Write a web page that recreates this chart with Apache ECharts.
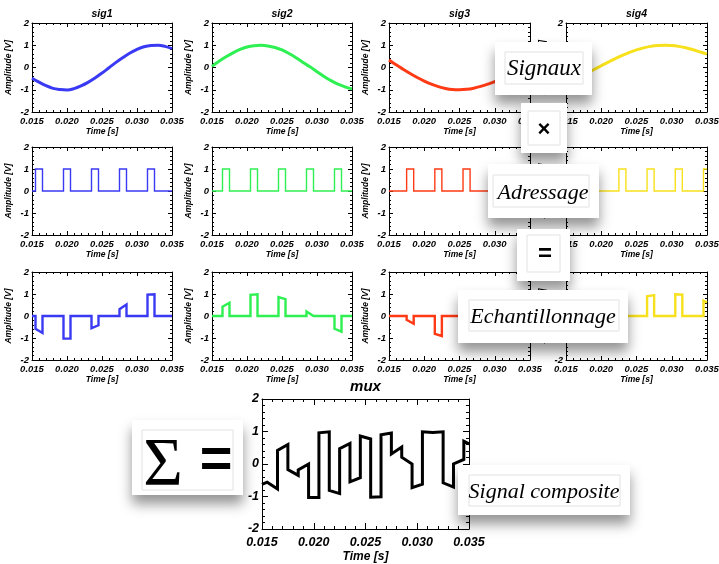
<!DOCTYPE html>
<html><head><meta charset="utf-8">
<script src="https://cdn.jsdelivr.net/npm/echarts@6.0.0/dist/echarts.min.js"></script>
<style>html,body{margin:0;padding:0;background:#fff}#c{width:719px;height:564px}</style>
</head><body><div id="c"></div>
<script>
// ---------------- data ----------------
const signalNames = ['sig1', 'sig2', 'sig3', 'sig4'];
const muxName = 'mux';
const xTickLabels = ['0.015', '0.020', '0.025', '0.030', '0.035'];
const yTickLabels = ['-2', '-1', '0', '1', '2'];
const times = [0.015,0.016,0.017,0.018,0.019,0.020,0.021,0.022,0.023,0.024,0.025,
               0.026,0.027,0.028,0.029,0.030,0.031,0.032,0.033,0.034,0.035];
const sig1 = [-0.48,-0.66,-0.82,-0.94,-0.99,-1.01,-0.95,-0.83,-0.67,-0.47,-0.25,-0.01,0.23,0.45,0.65,0.81,0.93,0.99,1.0,0.95,0.85];
const sig2 = [0.05,0.28,0.48,0.66,0.81,0.92,0.98,1.0,0.97,0.9,0.79,0.63,0.44,0.23,0.03,-0.19,-0.4,-0.59,-0.75,-0.87,-0.96];
const sig3 = [0.34,0.12,-0.08,-0.27,-0.45,-0.61,-0.75,-0.86,-0.94,-0.99,-1.0,-0.98,-0.93,-0.85,-0.75,-0.63,-0.46,-0.28,-0.09,0.09,0.27];
const sig4 = [-0.64,-0.54,-0.41,-0.25,-0.09,0.08,0.24,0.4,0.55,0.68,0.79,0.88,0.95,0.99,1.0,0.99,0.95,0.89,0.8,0.7,0.6];
const pulseWidth = 0.001;
const addressLevel = 1;
const pulseStarts1 = [0.0155,0.0195,0.0235,0.0275,0.0315];
const pulseStarts2 = [0.0165,0.0205,0.0245,0.0285,0.0325];
const pulseStarts3 = [0.0175,0.0215,0.0255,0.0295,0.0335];
const pulseStarts4 = [0.0145,0.0185,0.0225,0.0265,0.0305,0.0345];
// sampled values [start, end] of each visible pulse
const samples1 = [[-0.58,-0.77],[-1.03,-1.03],[-0.55,-0.42],[0.31,0.52],[0.97,0.99]];
const samples2 = [[0.42,0.6],[0.96,0.99],[0.86,0.77],[0.21,0.0],[-0.58,-0.71]];
const samples3 = [[-0.17,-0.35],[-0.81,-0.91],[-1.02,-1.01],[-0.73,-0.62],[0.0,0.14]];
const samples4 = [[-0.63,-0.56],[-0.18,0.0],[0.47,0.63],[0.9,0.95],[0.99,0.97],[0.7,0.62]];
const overlayTexts = ['Signaux', '\u00d7', 'Adressage', '=', 'Echantillonnage', '\u03a3', '=', 'Signal composite'];

// ---------------- styling / layout ----------------
const colors = ['#3a3af4', '#2ef052', '#ff3a14', '#f7e01c'];
const X_MIN = 0.015, X_MAX = 0.035;
const colLeft = [32, 212, 389, 566];
const rowTop = [23, 147, 272];
const rowH = [89, 88, 88];
const panelW = 141;
const FONT = 'Liberation Sans';
const SERIF = 'Liberation Serif';

const sigs = [sig1, sig2, sig3, sig4];
const starts = [pulseStarts1, pulseStarts2, pulseStarts3, pulseStarts4];
const samples = [samples1, samples2, samples3, samples4];

function stepData(st, vals) {
  const pts = [];
  let lastT1 = X_MIN;
  st.forEach((s, i) => {
    const t0 = Math.max(s, X_MIN), t1 = Math.min(s + pulseWidth, X_MAX);
    if (i === 0 && t0 > X_MIN) pts.push([X_MIN, 0]);
    if (t0 > X_MIN) pts.push([t0, 0]);
    pts.push([t0, vals[i][0]], [t1, vals[i][1]]);
    if (t1 < X_MAX) pts.push([t1, 0]);
    lastT1 = t1;
  });
  if (lastT1 < X_MAX) pts.push([X_MAX, 0]);
  return pts;
}
function muxData() {
  const all = [];
  starts.forEach((st, k) => st.forEach((s, i) => {
    all.push({t0: Math.max(s, X_MIN), t1: Math.min(s + pulseWidth, X_MAX), v: samples[k][i]});
  }));
  all.sort((a, b) => a.t0 - b.t0);
  const pts = [];
  all.forEach(p => { pts.push([p.t0, p.v[0]], [p.t1, p.v[1]]); });
  return pts;
}

const grids = [], xAxes = [], yAxes = [], series = [], graphics = [];

function addPanel(left, top, w, h, big, title) {
  const g = grids.length;
  grids.push({left: left, top: top, width: w, height: h, containLabel: false, outerBoundsMode: 'none'});
  const fs = big ? 12.5 : 9.5;
  const nameFs = big ? 12 : 8.5;
  const tickLen = big ? 6 : 4;
  const minorLen = big ? 3 : 2;
  const lbl = {show: true, fontFamily: FONT, fontStyle: 'italic', fontWeight: 'bold', fontSize: fs, color: '#000'};
  const common = {
    axisLine: {show: true, onZero: false, lineStyle: {color: '#000', width: 1}},
    axisTick: {show: true, inside: true, length: tickLen, lineStyle: {color: '#000', width: 1}},
    minorTick: {show: true, splitNumber: 5, length: minorLen, lineStyle: {color: '#000', width: 1}},
    splitLine: {show: false}, minorSplitLine: {show: false}
  };
  xAxes.push(Object.assign({
    type: 'value', gridIndex: g, position: 'bottom', min: X_MIN, max: X_MAX, interval: 0.005,
    name: 'Time [s]', nameLocation: 'middle', nameGap: big ? 22 : 15,
    nameTextStyle: {fontFamily: FONT, fontStyle: 'italic', fontWeight: 'bold', fontSize: nameFs, color: '#000'},
    axisLabel: Object.assign({}, lbl, {margin: big ? 7 : 4, showMinLabel: true, showMaxLabel: true,
      formatter: v => xTickLabels[Math.round((v - X_MIN) / 0.005)]})
  }, common));
  xAxes.push(Object.assign({
    type: 'value', gridIndex: g, position: 'top', min: X_MIN, max: X_MAX, interval: 0.005,
    axisLabel: {show: false}
  }, common));
  yAxes.push(Object.assign({
    type: 'value', gridIndex: g, position: 'left', min: -2, max: 2, interval: 1,
    name: big ? '' : 'Amplitude [V]', nameLocation: 'middle', nameGap: 19,
    nameTextStyle: {fontFamily: FONT, fontStyle: 'italic', fontWeight: 'bold', fontSize: nameFs, color: '#000'},
    axisLabel: Object.assign({}, lbl, {margin: 3, showMinLabel: true, showMaxLabel: true,
      formatter: v => yTickLabels[Math.round(v + 2)]})
  }, common));
  yAxes.push(Object.assign({
    type: 'value', gridIndex: g, position: 'right', min: -2, max: 2, interval: 1,
    axisLabel: {show: false}
  }, common));
  graphics.push({
    type: 'text', x: left + w / 2, y: top - (big ? 12 : 9), z: 10,
    style: {text: title, fontFamily: FONT, fontStyle: 'italic', fontWeight: 'bold', fontSize: big ? 15 : 10.5,
      fill: '#000', textAlign: 'center', textVerticalAlign: 'middle'}
  });
  return g;
}

for (let r = 0; r < 3; r++) {
  for (let k = 0; k < 4; k++) {
    const g = addPanel(colLeft[k], rowTop[r], panelW - (k < 2 ? 1 : 0), rowH[r], false, r === 0 ? signalNames[k] : '');
    let data, width;
    if (r === 0) { data = times.map((t, i) => [t, sigs[k][i]]); width = 3; }
    else if (r === 1) { data = stepData(starts[k], starts[k].map(() => [addressLevel, addressLevel])); width = 1.4; }
    else { data = stepData(starts[k], samples[k]); width = 2.4; }
    series.push({
      type: 'line', xAxisIndex: 2 * g, yAxisIndex: 2 * g, data: data, smooth: r === 0 ? 0.35 : false,
      showSymbol: false, symbol: 'none', animation: false, clip: true,
      lineStyle: {color: colors[k], width: width, join: 'miter'}
    });
  }
}
const gm = addPanel(262, 399, 207, 130, true, muxName);
series.push({
  type: 'line', xAxisIndex: 2 * gm, yAxisIndex: 2 * gm, data: muxData(), showSymbol: false, symbol: 'none',
  animation: false, lineStyle: {color: '#000', width: 3, join: 'miter'}
});

// ---------------- overlay boxes ----------------
function box(x, y, w, h, inner, texts) {
  const Z = {zlevel: 1, z: 100};
  const children = [
    Object.assign({type: 'rect', shape: {x: 0, y: 0, width: w, height: h},
     style: {fill: '#fff', shadowBlur: 12, shadowOffsetY: 9, shadowColor: 'rgba(0,0,0,0.42)'}}, Z),
    Object.assign({type: 'rect', shape: {x: inner[0], y: inner[1], width: inner[2], height: inner[3]},
     style: {fill: '#fff', stroke: '#e2e2e2', lineWidth: 1}}, {zlevel: 1, z: 101})
  ];
  texts.forEach(t => children.push(Object.assign({type: 'text', x: t.x, y: t.y,
    style: Object.assign({textAlign: 'center', textVerticalAlign: 'middle', fill: '#000'}, t.s)}, {zlevel: 1, z: 102})));
  return {type: 'group', x: x, y: y, zlevel: 1, z: 100, children: children};
}
const serifIt = (size) => ({fontFamily: SERIF, fontStyle: 'italic', fontSize: size});
graphics.push(box(495, 42, 97, 53, [10, 10, 78, 32], [{x: 49, y: 27, s: Object.assign({text: overlayTexts[0]}, serifIt(23))}]));
graphics.push(box(521, 103, 46, 50, [7, 8, 32, 34], [{x: 23, y: 27, s: {text: overlayTexts[1], fontFamily: FONT, fontWeight: 'bold', fontSize: 22}}]));
graphics.push(box(488, 164, 111, 54, [5, 11, 96, 32], [{x: 55, y: 29, s: Object.assign({text: overlayTexts[2]}, serifIt(22))}]));
graphics.push(box(517, 229, 53, 52, [10, 6, 33, 37], [{x: 28, y: 25, s: {text: overlayTexts[3], fontFamily: FONT, fontWeight: 'bold', fontSize: 24}}]));
graphics.push(box(458, 290, 170, 53, [11, 10, 150, 31], [{x: 85, y: 27, s: Object.assign({text: overlayTexts[4]}, serifIt(22))}]));
graphics.push(box(132, 420, 111, 75, [10, 10, 91, 60], [
  {x: 31, y: 46, s: {text: overlayTexts[5], fontFamily: SERIF, fontSize: 68}},
  {x: 84, y: 42, s: {text: overlayTexts[6], fontFamily: FONT, fontWeight: 'bold', fontSize: 56}}]));
graphics.push(box(458, 465, 172, 50, [11, 10, 151, 31], [{x: 86, y: 27, s: Object.assign({text: overlayTexts[7]}, serifIt(22))}]));

const chart = echarts.init(document.getElementById('c'), null, {renderer: 'canvas'});
chart.setOption({
  animation: false,
  backgroundColor: '#fff',
  grid: grids, xAxis: xAxes, yAxis: yAxes, series: series, graphic: graphics
});
</script></body></html>
